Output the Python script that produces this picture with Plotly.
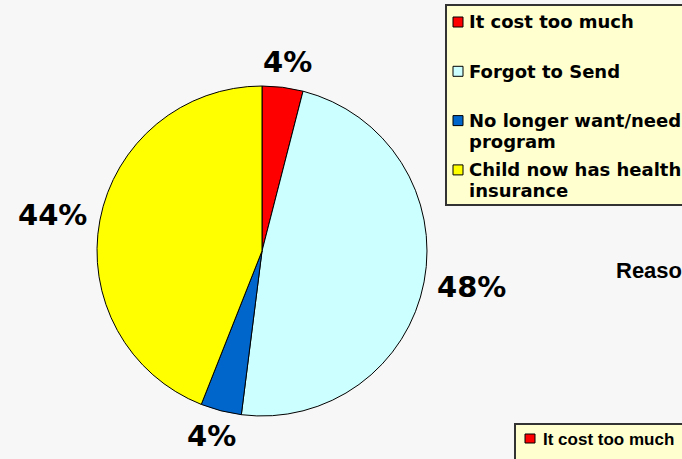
import math
import plotly.graph_objects as go

# ---- data ----
labels = ["It cost too much", "Forgot to Send", "No longer want/need program", "Child now has health insurance"]
legend_lines = [["It cost too much"], ["Forgot to Send"], ["No longer want/need", "program"], ["Child now has health", "insurance"]]
values = [4, 48, 4, 44]
colors = ["#ff0000", "#ccffff", "#0066cc", "#ffff00"]

W, H = 682, 459
BG = "#f7f7f7"
LEG_BG = "#ffffcf"

def px(x):
    return x / W

def py(y):
    return 1 - y / H

# pie domain in pixels
dom_x = [97, 427]
dom_y = [86, 416]

fig = go.Figure()
fig.add_trace(go.Pie(
    labels=labels,
    values=values,
    sort=False,
    direction="clockwise",
    rotation=0,
    marker=dict(colors=colors, line=dict(color="#000000", width=1)),
    textinfo="none",
    domain=dict(x=[px(dom_x[0]), px(dom_x[1])], y=[py(dom_y[1]), py(dom_y[0])]),
    showlegend=False,
    hoverinfo="label+percent",
))

shapes = []
annotations = []

# percent labels outside the pie, placed from the cumulative values
cx = (dom_x[0] + dom_x[1]) / 2
cy = (dom_y[0] + dom_y[1]) / 2
r = min(dom_x[1] - dom_x[0], dom_y[1] - dom_y[0]) / 2
total = sum(values)
LBL_SIZE = 29
gap = 13
cum = 0
for v in values:
    mid = (cum + v / 2) / total * 2 * math.pi
    cum += v
    txt = f"{round(v / total * 100)}%"
    sx, sy = math.sin(mid), -math.cos(mid)
    m = max(abs(sx), abs(sy))
    w_est = LBL_SIZE * (0.696 * (len(txt) - 1) + 1.002)
    h_est = LBL_SIZE * 0.85
    x0 = cx + (r + gap) * sx + (sx / m) * w_est / 2
    y0 = cy + (r + gap) * sy + (sy / m) * h_est / 2
    annotations.append(dict(text=txt, xref="paper", yref="paper",
                            x=px(x0), y=py(y0), xanchor="center", yanchor="middle",
                            showarrow=False,
                            font=dict(family="DejaVu Sans", size=LBL_SIZE, color="#000000", weight="bold")))

# legend box (top right, runs off the edge)
shapes.append(dict(type="rect", xref="paper", yref="paper",
                   x0=px(446), x1=px(700), y0=py(205), y1=py(5),
                   fillcolor=LEG_BG, line=dict(color="#333333", width=2), layer="below"))
for i, (lines, col) in enumerate(zip(legend_lines, colors)):
    yc = 22 + 49.3 * i
    shapes.append(dict(type="rect", xref="paper", yref="paper",
                       x0=px(453), x1=px(463), y0=py(yc + 5), y1=py(yc - 5),
                       fillcolor=col, line=dict(color="#000000", width=1)))
    for k, line in enumerate(lines):
        annotations.append(dict(text=line, xref="paper", yref="paper",
                                x=px(467), y=py(yc + 21 * k), xanchor="left", yanchor="middle",
                                align="left", showarrow=False,
                                font=dict(family="DejaVu Sans", size=18, color="#000000", weight="bold")))

# clipped title of neighbouring chart
annotations.append(dict(text="Reasons", xref="paper", yref="paper",
                        x=px(614), y=py(270), xanchor="left", yanchor="middle",
                        showarrow=False,
                        font=dict(family="Liberation Sans", size=22, color="#000000", weight="bold")))

# second (clipped) legend box, bottom right
shapes.append(dict(type="rect", xref="paper", yref="paper",
                   x0=px(515), x1=px(700), y0=py(475), y1=py(424),
                   fillcolor=LEG_BG, line=dict(color="#333333", width=2), layer="below"))
shapes.append(dict(type="rect", xref="paper", yref="paper",
                   x0=px(525), x1=px(535), y0=py(443), y1=py(434),
                   fillcolor=colors[0], line=dict(color="#000000", width=1)))
annotations.append(dict(text=labels[0], xref="paper", yref="paper",
                        x=px(541), y=py(439), xanchor="left", yanchor="middle",
                        showarrow=False,
                        font=dict(family="Liberation Sans", size=17, color="#000000", weight="bold")))

fig.update_layout(
    width=W, height=H,
    margin=dict(l=0, r=0, t=0, b=0, autoexpand=False),
    paper_bgcolor=BG,
    plot_bgcolor=BG,
    shapes=shapes,
    annotations=annotations,
)

fig.write_html("out.html",
               config={"displayModeBar": False},
               post_script="document.body.style.margin='0';document.body.style.overflow='hidden';")
